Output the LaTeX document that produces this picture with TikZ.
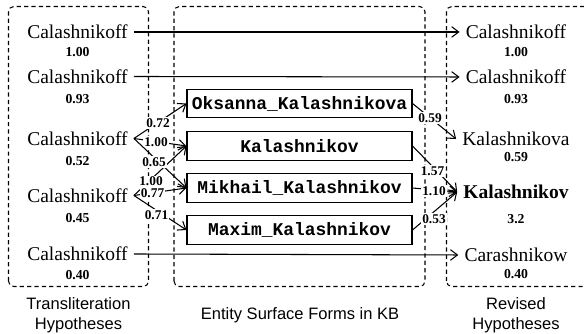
\documentclass[tikz,border=0pt]{standalone}
\usepackage{fontspec}
\setmainfont{Liberation Serif}
\setsansfont{Liberation Sans}
\setmonofont{Liberation Mono}
\usetikzlibrary{arrows.meta}
\begin{document}
\begin{tikzpicture}[
	hyp/.style={font=\fontsize{11.1}{13}\selectfont},
	score/.style={font=\fontsize{7.8}{9}\selectfont\bfseries},
	wlabel/.style={font=\fontsize{7.6}{9}\selectfont\bfseries, fill=white, inner sep=0.6pt},
	surface/.style={draw, line width=0.6pt, minimum width=4.5cm, minimum height=0.57cm, inner sep=0pt, font=\fontsize{10.2}{12}\selectfont\ttfamily\bfseries},
	dashbox/.style={line width=0.6pt, dash pattern=on 2.4pt off 1.8pt, rounded corners=3pt},
	groupname/.style={font=\fontsize{9.4}{11.2}\selectfont\sffamily, align=center},
	link/.style={line width=0.6pt, -{Straight Barb[length=4pt,width=6pt]}}
]
	\clip (0,0) rectangle (11.68,6.68);
	%Gruppen
	\draw[dashbox] (0.17,0.95) rectangle (2.97,6.55);
	\draw[dashbox] (3.48,0.95) rectangle (8.50,6.55);
	\draw[dashbox] (8.93,0.95) rectangle (12.2,6.55);
	
	%Transliteration hypotheses
	\node[hyp] (h1) at (1.55,6.04) {Calashnikoff};
	\node[score] (h1s) at (1.55,5.63) {1.00};
	\node[hyp] (h2) at (1.55,5.15) {Calashnikoff};
	\node[score] (h2s) at (1.55,4.70) {0.93};
	\node[hyp] (h3) at (1.55,3.91) {Calashnikoff};
	\node[score] (h3s) at (1.55,3.46) {0.52};
	\node[hyp] (h4) at (1.55,2.77) {Calashnikoff};
	\node[score] (h4s) at (1.55,2.32) {0.45};
	\node[hyp] (h5) at (1.55,1.60) {Calashnikoff};
	\node[score] (h5s) at (1.55,1.18) {0.40};
	
	%Entity surface forms
	\node[surface] (oksanna) at (5.99,4.61) {Oksanna\_Kalashnikova};
	\node[surface] (kalash) at (5.99,3.76) {Kalashnikov};
	\node[surface] (mikhail) at (5.99,2.92) {Mikhail\_Kalashnikov};
	\node[surface] (maxim) at (5.99,2.08) {Maxim\_Kalashnikov};
	
	%Revised hypotheses
	\node[hyp] (r1) at (10.32,6.04) {Calashnikoff};
	\node[score] (r1s) at (10.32,5.63) {1.00};
	\node[hyp] (r2) at (10.32,5.14) {Calashnikoff};
	\node[score] (r2s) at (10.32,4.70) {0.93};
	\node[hyp] (r3) at (10.32,3.90) {Kalashnikova};
	\node[score] (r3s) at (10.32,3.54) {0.59};
	\node[hyp] (r4) at (10.32,2.84) {\bfseries Kalashnikov};
	\node[score] (r4s) at (10.32,2.30) {3.2};
	\node[hyp] (r5) at (10.32,1.58) {Carashnikow};
	\node[score] (r5s) at (10.32,1.20) {0.40};
	
	\node[groupname] (tname) at (1.57,0.38) {Transliteration\\Hypotheses};
	\node[groupname] (ename) at (6.00,0.37) {Entity Surface Forms in KB};
	\node[groupname] (rname) at (10.32,0.38) {Revised\\Hypotheses};
	
	%unveraendert
	\draw[link] (h1.east) -- (r1.west);
	\draw[link] (h2.east) -- (r2.west);
	\draw[link] (h5.east) -- (r5.west);
	
	\draw[link] (h4.east) -- (kalash.west) node[wlabel] at (3.02,3.05) {1.00};
	\draw[link] (h4.east) -- (mikhail.west) node[wlabel] at (3.05,2.82) {0.77};
	\draw[link] (h4.east) -- (maxim.west) node[wlabel] at (3.13,2.38) {0.71};
	\draw[link] (h3.east) -- (oksanna.west) node[wlabel] at (3.16,4.22) {0.72};
	\draw[link] (h3.east) -- (kalash.west) node[wlabel] at (3.12,3.84) {1.00};
	\draw[link] (h3.east) -- (mikhail.west) node[wlabel] at (3.08,3.44) {0.65};
	
	%Zusammenfuehrung
	\draw[link] (oksanna.east) -- (r3.west) node[wlabel] at (8.60,4.32) {0.59};
	\draw[link] (kalash.east) -- (r4.west) node[wlabel] at (8.65,3.26) {1.57};
	\draw[link] (mikhail.east) -- (r4.west) node[wlabel] at (8.68,2.86) {1.10};
	\draw[link] (maxim.east) -- (r4.west) node[wlabel] at (8.68,2.30) {0.53};
\end{tikzpicture}
\end{document}
